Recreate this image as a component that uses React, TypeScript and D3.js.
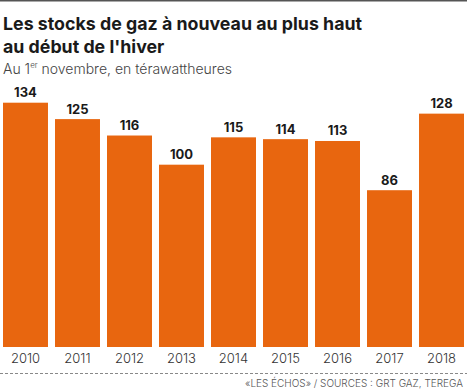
import React from "react";
import * as d3 from "d3";

const years = ["2010", "2011", "2012", "2013", "2014", "2015", "2016", "2017", "2018"];
const stocks = [134, 125, 116, 100, 115, 114, 113, 86, 128];

const W = 467;
const H = 392;
const FONT = "Inter, Roboto, sans-serif";

function App() {
  // band scale for the years
  const x = d3.scaleBand().domain(years).range([3, 464]).paddingInner(0.135).paddingOuter(0);
  // linear scale for TWh
  const y = d3.scaleLinear().domain([0, 134]).range([347, 102.7]);

  return (
    <svg width={W} height={H} style={{ position: "absolute", left: 0, top: 0 }}>
      <rect width={W} height={H} fill="#ffffff" />
      <line x1={0} x2={W} y1={0.5} y2={0.5} stroke="#555" strokeWidth={2} />

      <text x={3} y={30} fontFamily={FONT} fontWeight={700} fontSize={17.8} fill="#1a1a1a">
        Les stocks de gaz à nouveau au plus haut
      </text>
      <text x={3} y={53} fontFamily={FONT} fontWeight={700} fontSize={17.8} fill="#1a1a1a">
        au début de l'hiver
      </text>
      <text x={3} y={74} fontFamily={FONT} fontSize={14} fontWeight={300} fill="#444">
        Au 1<tspan fontSize={8} dy={-6}>er</tspan>
        <tspan dy={6}> novembre, en térawattheures</tspan>
      </text>

      <g>
        {years.map((yr, i) => (
          <g key={yr}>
            <rect
              x={x(yr)}
              y={y(stocks[i])}
              width={x.bandwidth()}
              height={y(0) - y(stocks[i])}
              fill="#e8660f"
            />
            <text
              x={(x(yr) as number) + x.bandwidth() / 2}
              y={y(stocks[i]) - 5.5}
              textAnchor="middle"
              fontFamily={FONT}
              fontWeight={700}
              fontSize={13}
              fill="#1a1a1a"
            >
              {stocks[i]}
            </text>
            <text
              x={(x(yr) as number) + x.bandwidth() / 2}
              y={363}
              textAnchor="middle"
              fontFamily={FONT}
              fontSize={13}
              fontWeight={300}
              fill="#333"
            >
              {yr}
            </text>
          </g>
        ))}
      </g>

      <line x1={0} x2={W} y1={373.5} y2={373.5} stroke="#888" strokeWidth={1} strokeDasharray="3,2" />
      <text x={463} y={387} textAnchor="end" fontFamily={FONT} fontSize={10} fontWeight={300} fill="#555">
        «LES ÉCHOS» / SOURCES : GRT GAZ, TEREGA
      </text>
    </svg>
  );
}

export default App;
